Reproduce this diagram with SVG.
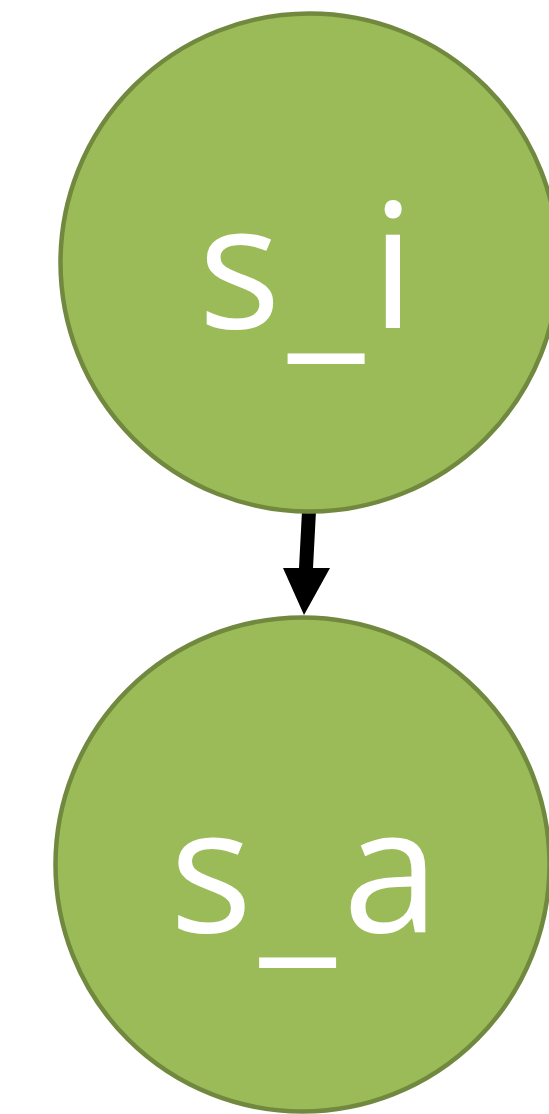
<svg xmlns="http://www.w3.org/2000/svg" width="549" height="1114" viewBox="0 0 549 1114">
<style>
.node{fill:#9BBB59;stroke:#71893F;stroke-width:4.5}
.lbl{fill:#fff;font-family:"Open Sans","Noto Sans",sans-serif;font-size:174px;text-anchor:middle;letter-spacing:7px}
</style>
<rect width="549" height="1114" fill="#fff"/>
<g id="connectors">
<polygon points="302,511 316,511 313,568 330,568 304,615 283,568 299,568" fill="#000"/>
</g>
<g id="node-si">
<circle class="node" cx="309.5" cy="262.5" r="249"/>
<text class="lbl" x="310" y="328">s<tspan dy="10">_</tspan><tspan dy="-10">i</tspan></text>
</g>
<g id="node-sa">
<circle class="node" cx="302.5" cy="864.5" r="247"/>
<text class="lbl" x="308" y="932">s<tspan dy="10">_</tspan><tspan dy="-10">a</tspan></text>
</g>
</svg>
